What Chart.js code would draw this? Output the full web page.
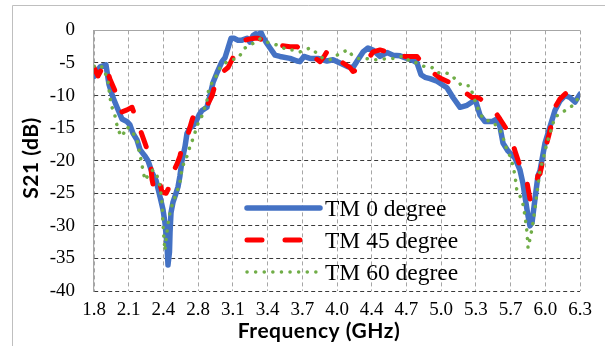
<!DOCTYPE html>
<html><head><meta charset="utf-8">
<script src="https://cdn.jsdelivr.net/npm/chart.js@4.4.0/dist/chart.umd.min.js"></script>
<style>html,body{margin:0;padding:0;background:#fff;}#wrap{position:relative;width:605px;height:346px;}canvas{display:block;}</style>
</head><body><div id="wrap"><canvas id="c" width="605" height="346"></canvas></div>
<script>
const seriesNames = ["TM 0 degree", "TM 45 degree", "TM 60 degree"];
const xTickLabels = ["1.8","2.1","2.4","2.8","3.1","3.4","3.7","4.0","4.4","4.7","5.0","5.3","5.7","6.0","6.3"];
const xTitle = "Frequency (GHz)";
const yTitle = "S21 (dB)";

const tm0Freq = [1.800,1.856,1.911,1.939,1.976,2.013,2.059,2.106,2.133,2.161,2.198,2.226,2.272,2.300,2.337,2.374,2.411,2.439,2.457,2.476,2.485,2.499,2.504,2.513,2.531,2.559,2.578,2.596,2.615,2.643,2.661,2.689,2.735,2.772,2.800,2.846,2.874,2.902,2.939,2.985,3.013,3.041,3.069,3.096,3.133,3.170,3.217,3.244,3.272,3.300,3.328,3.346,3.365,3.393,3.430,3.476,3.522,3.615,3.680,3.707,3.744,3.800,3.874,3.957,4.013,4.078,4.152,4.198,4.244,4.291,4.337,4.383,4.448,4.513,4.569,4.633,4.698,4.754,4.791,4.828,4.865,4.911,4.976,5.068,5.124,5.189,5.254,5.300,5.328,5.374,5.420,5.485,5.531,5.559,5.587,5.633,5.698,5.744,5.772,5.800,5.819,5.837,5.856,5.865,5.883,5.911,5.930,5.976,6.022,6.068,6.115,6.161,6.207,6.254,6.300];
const tm0S21 = [-7.1,-5.6,-5.3,-8.3,-10.3,-11.8,-13.6,-14.0,-14.5,-15.8,-16.8,-18.3,-19.3,-20.0,-21.8,-23.0,-25.5,-27.5,-29.5,-33,-36,-34,-31,-28,-26.4,-25.0,-24.0,-22.3,-20,-17.8,-15.8,-15,-14.3,-13.0,-12.3,-11.8,-10,-8,-6.5,-4.8,-4.2,-2.7,-1.2,-1.2,-1.5,-1.5,-1.2,-1.8,-0.8,-0.5,-0.7,-0.3,-1.0,-1.8,-2.7,-3.8,-4.0,-4.3,-4.7,-4.8,-4.0,-4.3,-4.3,-4.7,-4.5,-5.0,-5.6,-5.7,-4.5,-3.3,-2.7,-3.0,-4.0,-3.4,-3.8,-3.9,-4.3,-4.6,-5.0,-6.8,-7.2,-7.4,-7.8,-8.8,-10.3,-11.8,-11.5,-11.0,-10.5,-13.0,-14.0,-14.0,-13.6,-14.8,-17.3,-18.5,-19.6,-21.4,-23.5,-26.5,-28.5,-30,-29.5,-28.3,-25.9,-22.3,-21.5,-17.3,-14.8,-12.3,-10.8,-10.0,-10.3,-11.0,-9.8];

const tm45Freq = [1.800,1.837,1.902,1.948,2.013,2.059,2.106,2.152,2.207,2.272,2.319,2.337,2.365,2.393,2.411,2.430,2.467,2.504,2.531,2.569,2.596,2.615,2.661,2.707,2.735,2.781,2.846,2.893,2.948,3.004,3.041,3.078,3.133,3.170,3.198,3.244,3.291,3.319,3.365,3.430,3.522,3.615,3.680,3.726,3.781,3.828,3.893,3.930,3.967,4.013,4.050,4.106,4.170,4.198,4.244,4.309,4.356,4.383,4.448,4.522,4.569,4.615,4.680,4.726,4.791,4.837,4.883,4.939,5.004,5.096,5.161,5.235,5.300,5.356,5.439,5.513,5.559,5.633,5.670,5.698,5.744,5.781,5.809,5.837,5.865,5.883,5.911,5.930,5.976,6.013,6.041,6.068,6.115,6.180,6.226,6.300];
const tm45S21 = [-5.7,-7.0,-5.0,-7.5,-10.0,-12.5,-12.2,-11.8,-14.3,-17.3,-19.6,-22.9,-25.1,-24.0,-23.6,-24.8,-25.0,-23.8,-21.8,-20.5,-19.3,-17.8,-16.5,-13.8,-12.5,-12.0,-11.6,-10.0,-6.8,-6.2,-5.7,-4.5,-2.7,-2.0,-1.5,-1.3,-1.2,-1.2,-1.5,-1.8,-2.3,-2.5,-2.5,-3.0,-3.5,-4.0,-4.8,-4.0,-3.0,-3.8,-4.3,-5.0,-5.7,-6.3,-6.0,-5.0,-4.0,-3.3,-3.0,-3.3,-4.0,-3.8,-4.0,-4.0,-4.0,-5.0,-5.7,-6.5,-7.3,-8.0,-8.8,-9.5,-10.3,-10.3,-11.2,-12.5,-13.6,-15.5,-17.0,-18.5,-20.8,-22.5,-23.3,-25.9,-25.5,-24.4,-22.3,-22.0,-18.3,-16.0,-14.0,-11.8,-10.5,-9.5,-9.0,-8.3];

const tm60Freq = [1.800,1.856,1.893,1.930,1.948,1.967,1.994,2.022,2.059,2.106,2.152,2.198,2.226,2.254,2.272,2.291,2.319,2.346,2.383,2.411,2.430,2.439,2.448,2.457,2.471,2.485,2.504,2.531,2.569,2.596,2.615,2.661,2.689,2.717,2.763,2.800,2.846,2.856,2.893,2.939,2.967,3.013,3.078,3.133,3.198,3.272,3.337,3.402,3.448,3.522,3.587,3.643,3.707,3.800,3.865,3.920,3.985,4.078,4.152,4.189,4.244,4.309,4.383,4.448,4.513,4.569,4.615,4.680,4.726,4.791,4.865,4.930,4.985,5.050,5.115,5.207,5.281,5.328,5.374,5.420,5.494,5.541,5.578,5.606,5.652,5.680,5.698,5.717,5.763,5.791,5.809,5.819,5.837,5.856,5.883,5.911,5.930,5.957,5.994,6.041,6.068,6.143,6.226,6.281,6.300];
const tm60S21 = [-5.5,-5.3,-6.0,-7.8,-10.3,-11.8,-13.1,-15.3,-16.3,-14.8,-15.5,-16.8,-19.1,-21.5,-23.0,-22.5,-22.0,-21.4,-22.3,-23.8,-26.5,-29.8,-32.0,-33.8,-31.5,-29.8,-27.9,-26.4,-24.8,-23.3,-21.1,-19.3,-17.8,-16.6,-14.3,-13.1,-10.8,-9.5,-8.0,-6.8,-5.7,-5.0,-4.5,-4.3,-2.7,-2.0,-1.3,-1.8,-2.0,-2.4,-3.0,-3.0,-3.3,-2.7,-3.5,-4.3,-4.5,-3.5,-3.0,-3.8,-4.3,-4.3,-4.5,-4.5,-4.3,-4.3,-4.0,-4.0,-4.8,-5.0,-5.6,-5.7,-6.5,-6.4,-7.0,-8.5,-8.5,-10.8,-12.8,-13.8,-14.0,-15.0,-15.8,-17.6,-19.3,-20.8,-22.3,-24.8,-25.9,-28.5,-30.9,-33.4,-32.0,-30.4,-27.4,-23.8,-21.5,-19.9,-17.3,-14.8,-13.3,-12.5,-11.6,-10.5,-10.0];

const xMin = 1.8, xMax = 6.3, yMin = -40, yMax = 0, yStep = 5;

function pts(fx, fy) {
  const n = Math.min(fx.length, fy.length);
  const out = [];
  for (let i = 0; i < n; i++) out.push({x: fx[i], y: fy[i]});
  return out;
}

const styles = [
  {color: '#4472C4', width: 5.5, dash: []},
  {color: '#FF0000', width: 5, dash: [15, 23]},
  {color: '#70AD47', width: 3.5, dash: [0.1, 8.5]}
];

const deco = {
  id: 'deco',
  beforeDraw(chart) {
    const c = chart.ctx;
    c.save();
    c.strokeStyle = '#bfbfbf';
    c.lineWidth = 1;
    c.beginPath();
    c.moveTo(12.5, 346); c.lineTo(12.5, 5.5); c.lineTo(605, 5.5);
    c.stroke();
    c.restore();
  },
  beforeDatasetsDraw(chart) {
    const c = chart.ctx, a = chart.chartArea;
    c.save();
    c.strokeStyle = '#a6a6a6';
    c.lineWidth = 1.2;
    c.beginPath();
    c.moveTo(a.left, Math.round(a.top) + 0.5); c.lineTo(a.right, Math.round(a.top) + 0.5);
    c.stroke();
    c.restore();
  },
  afterDraw(chart) {
    const c = chart.ctx;
    c.save();
    const rows = [208, 240, 272];
    for (let i = 0; i < 3; i++) {
      const s = styles[i];
      c.strokeStyle = s.color; c.lineWidth = s.width;
      c.lineCap = 'round'; c.setLineDash(s.dash);
      c.beginPath(); c.moveTo(247, rows[i]); c.lineTo(320, rows[i]); c.stroke();
      c.setLineDash([]);
      c.fillStyle = '#000';
      c.font = '23.5px "Liberation Serif"';
      c.textBaseline = 'alphabetic';
      c.textAlign = 'left';
      c.fillText(seriesNames[i], 325, rows[i] + 8);
    }
    c.fillStyle = '#000';
    c.font = 'bold 21px Lato';
    try { c.letterSpacing = '0.5px'; } catch (e) {}
    c.textAlign = 'center';
    c.textBaseline = 'middle';
    c.fillText(xTitle, 319, 331);
    c.translate(31, 158);
    c.rotate(-Math.PI / 2);
    c.fillText(yTitle, 0, 0);
    c.restore();
  }
};

new Chart(document.getElementById('c'), {
  type: 'line',
  data: {
    datasets: [
      {label: seriesNames[0], data: pts(tm0Freq, tm0S21), borderColor: styles[0].color, borderWidth: styles[0].width, borderCapStyle: 'round', borderJoinStyle: 'round', pointRadius: 0, tension: 0, fill: false, order: 2},
      {label: seriesNames[1], data: pts(tm45Freq, tm45S21), borderColor: styles[1].color, borderWidth: styles[1].width, borderDash: styles[1].dash, borderCapStyle: 'round', borderJoinStyle: 'round', pointRadius: 0, tension: 0, fill: false, order: 1},
      {label: seriesNames[2], data: pts(tm60Freq, tm60S21), borderColor: styles[2].color, borderWidth: styles[2].width, borderDash: styles[2].dash, borderCapStyle: 'round', borderJoinStyle: 'round', pointRadius: 0, tension: 0, fill: false, order: 0}
    ]
  },
  options: {
    responsive: false,
    animation: false,
    layout: {padding: {left: 0, top: 25, right: 25, bottom: 0}},
    plugins: {legend: {display: false}, tooltip: {enabled: false}},
    scales: {
      x: {
        type: 'linear', min: xMin, max: xMax,
        afterBuildTicks(axis) {
          const n = xTickLabels.length;
          axis.ticks = xTickLabels.map((l, i) => ({value: xMin + i * (xMax - xMin) / (n - 1)}));
        },
        afterFit(axis) { axis.height = 55; },
        ticks: {
          autoSkip: false, maxRotation: 0, padding: 8, color: '#000',
          font: {family: '"Liberation Serif"', size: 19},
          callback: (v, i) => xTickLabels[i]
        },
        grid: {color: '#a6a6a6', lineWidth: 1, drawTicks: false},
        border: {display: false, dash: [4, 3]}
      },
      y: {
        min: yMin, max: yMax,
        afterFit(axis) { axis.width = 94; },
        ticks: {
          stepSize: yStep, padding: 19, color: '#000',
          font: {family: '"Liberation Serif"', size: 19},
          callback: (v) => String(v)
        },
        grid: {color: (ctx) => (ctx.tick && ctx.tick.value === 0) ? '#a6a6a6' : '#3a3a3a', lineWidth: 1, drawTicks: false},
        border: {display: true, color: '#a6a6a6', width: 1.2, dash: [4, 3]}
      }
    }
  },
  plugins: [deco]
});
</script>
</body></html>
